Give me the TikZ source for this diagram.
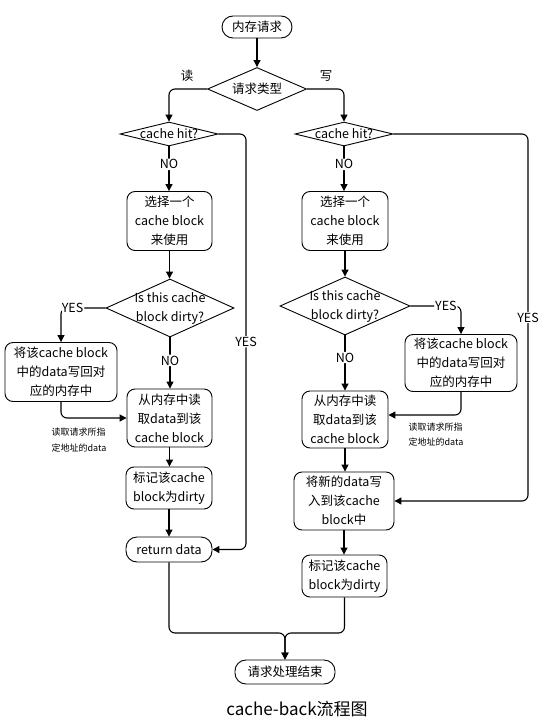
\documentclass[tikz,border=0pt]{standalone}
\usepackage{fontspec}
\setmainfont{Noto Sans CJK SC}
\usetikzlibrary{shapes.geometric,arrows.meta,calc}
\begin{document}
\begin{tikzpicture}[x=1pt,y=-1pt,
  every node/.style={font=\fontsize{12.5}{19}\selectfont},
  boxn/.style={draw,rounded corners=8pt,line width=0.9pt,align=center,inner sep=1pt},
  pill/.style={draw,rounded corners=11pt,line width=0.9pt,align=center,inner sep=1pt},
  dia/.style={draw,diamond,line width=0.9pt,inner sep=0pt},
  arr/.style={line width=1.1pt,-{Triangle[length=7pt,width=7pt]},rounded corners=6pt},
  ln/.style={line width=1.1pt,rounded corners=6pt},
  lab/.style={fill=white,inner sep=1pt},
  small/.style={font=\fontsize{9}{15.5}\selectfont,align=left,inner sep=0pt}
]
\useasboundingbox (0,0) rectangle (553,723);

% nodes
\node[pill,minimum width=70pt,minimum height=22pt] (s) at (257,27) {内存请求};
\node[dia,minimum width=99pt,minimum height=43pt,label={center:请求类型}] (d1) at (257,89) {};
\node[dia,minimum width=98pt,minimum height=24pt,label={center:cache hit?}] (ch1) at (169,134) {};
\node[dia,minimum width=98pt,minimum height=24pt,label={center:cache hit?}] (ch2) at (344,134) {};

\node[boxn,minimum width=85pt,minimum height=59pt] (sel1) at (169.5,221) {选择一个\\cache block\\来使用};
\node[boxn,minimum width=86pt,minimum height=59pt] (sel2) at (345,221) {选择一个\\cache block\\来使用};

\node[dia,minimum width=128pt,minimum height=58pt,label={[align=center]center:Is this cache\\block dirty?}] (dt1) at (170,308) {};
\node[dia,minimum width=130pt,minimum height=58pt,label={[align=center]center:Is this cache\\block dirty?}] (dt2) at (345,306) {};

\node[boxn,minimum width=112pt,minimum height=59pt] (wb1) at (61,372) {将该cache block\\中的data写回对\\应的内存中};
\node[boxn,minimum width=112pt,minimum height=57pt] (wb2) at (461,363) {将该cache block\\中的data写回对\\应的内存中};

\node[boxn,minimum width=85pt,minimum height=58pt] (rd1) at (169.5,418) {从内存中读\\取data到该\\cache block};
\node[boxn,minimum width=86pt,minimum height=57pt] (rd2) at (345,419.5) {从内存中读\\取data到该\\cache block};

\node[boxn,minimum width=86pt,minimum height=42pt] (mk1) at (169,488) {标记该cache\\block为dirty};
\node[pill,minimum width=86pt,minimum height=25pt] (ret) at (169,549.5) {return data};

\node[boxn,minimum width=100pt,minimum height=58pt] (wr2) at (344,501) {将新的data写\\入到该cache\\block中};
\node[boxn,minimum width=85pt,minimum height=42pt] (mk2) at (344.5,576) {标记该cache\\block为dirty};

\node[pill,minimum width=100pt,minimum height=24pt] (end) at (285,672) {请求处理结束};

\node[font=\fontsize{17}{20}\selectfont] (cap) at (297,709) {cache-back流程图};

% labels
\node (lr) at (187,76) {读};
\node (lw) at (326,76) {写};
\node[small] (n1) at (79,440) {读取请求所指\\定地址的data};
\node[small] (n2) at (436,434.5) {读取请求所指\\定地址的data};

\coordinate (c1) at (246,549.5);
\coordinate (c2) at (528,501);
\coordinate (c3) at (285,633);

% connectors
\draw[arr] (s) -- (d1);
\draw[arr] (d1.west) -| (ch1.north);
\draw[arr] (d1.east) -| (ch2.north);

\draw[arr] (ch1.south) -- node[lab,pos=0.4]{NO} (ch1.south |- sel1.north);
\draw[arr] (ch2.south) -- node[lab,pos=0.4]{NO} (ch2.south |- sel2.north);

\draw[arr] (ch1.east) -| node[lab,pos=0.75]{YES} (c1) -- (ret.east);
\draw[arr] (ch2.east) -| node[lab,pos=0.75]{YES} (c2) -- (wr2.east);

\draw[arr] (sel1.south) -- (sel1.south |- dt1.north);
\draw[arr] (sel2.south) -- (sel2.south |- dt2.north);

\draw[arr] (dt1.west) -| node[lab,pos=0.37]{YES} (wb1.north);
\draw[arr] (dt2.east) -| node[lab,pos=0.35]{YES} (wb2.north);

\draw[arr] (dt1.south) -- node[lab,pos=0.45]{NO} (dt1.south |- rd1.north);
\draw[arr] (dt2.south) -- node[lab,pos=0.4]{NO} (dt2.south |- rd2.north);

\draw[arr] (wb1.south) |- (rd1.west);
\draw[arr] (wb2.south) |- ($(rd2.east)+(0,-4.5)$);

\draw[arr] (rd1.south) -- (rd1.south |- mk1.north);
\draw[arr] (mk1.south) -- (mk1.south |- ret.north);
\draw[arr] (rd2.south) -- (rd2.south |- wr2.north);
\draw[arr] (wr2.south) -- (wr2.south |- mk2.north);

\draw[arr] (ret.south) |- (c3) -- (end.north);
\draw[arr] (mk2.south) |- (c3) -- (end.north);
\end{tikzpicture}
\end{document}
